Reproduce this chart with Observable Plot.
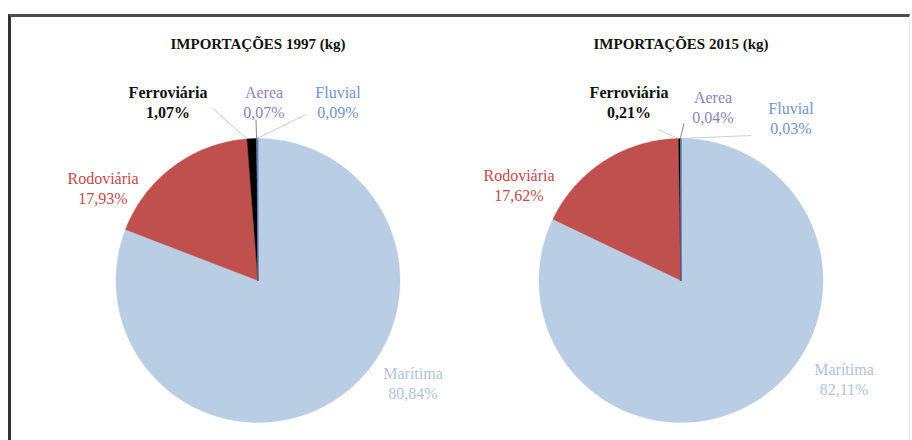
<!DOCTYPE html>
<html><head><meta charset="utf-8">
<script src="https://cdn.jsdelivr.net/npm/d3@7"></script>
<script src="https://cdn.jsdelivr.net/npm/@observablehq/plot@0.6"></script>
<style>
html,body{margin:0;padding:0;background:#fff;}
#wrap{position:relative;width:912px;height:440px;overflow:hidden;}
#box{position:absolute;left:8px;top:14px;width:902px;height:440px;border-left:3px solid #333;border-top:3px solid #4d4d4d;border-right:1px solid #e6e6e6;box-sizing:border-box;}
#chart{position:absolute;left:0;top:0;}
#chart svg text, #chart svg tspan {font-family:"Liberation Serif","Times New Roman",serif !important;}
</style></head><body>
<div id="wrap"><div id="box"></div><div id="chart"></div></div>
<script>
// Import shares by transport mode (% of kg)
const years = ["1997", "2015"];
const titles = ["IMPORTAÇÕES 1997 (kg)", "IMPORTAÇÕES 2015 (kg)"];
const modes = ["Marítima", "Rodoviária", "Ferroviária", "Aerea", "Fluvial"];
const share1997 = [80.84, 17.93, 1.07, 0.07, 0.09];
const share2015 = [82.11, 17.62, 0.21, 0.04, 0.03];

const sliceColors = ["#b9cde5", "#c0504d", "#000000", "#8064a2", "#4f81bd"];
const labelColors = ["#b3c3db", "#be4a4e", "#111111", "#9580bb", "#6f95cb"];
const leaderColors = ["#c8d4e6", "#c0504d", "#b8bfca", "#666666", "#bcc2cc"];
const boldLabel = [false, false, true, false, false];

// Layout (pixels relative to each pie's centre, x right / y down)
const R = 142;
const lineGap = 20;
const labelAt = {
  "1997": [[155, 103], [-155, -92], [-90, -178], [6, -178], [80, -178]],
  "2015": [[163, 99], [-162, -95], [-52, -178], [32, -173], [110, -162]]
};
const leaderFrom = {
  "1997": [[114, 93], null, [-45, -172], [-2, -161], [48, -166]],
  "2015": [null, null, [-23, -151], [3, -157], [70, -145]]
};
const shares = {"1997": share1997, "2015": share2015};

const fmt = v => v.toFixed(2).replace(".", ",") + "%";

// Build slice outlines, labels and leader lines from the shares
const slices = [], labels = [], leaders = [];
for (const year of years) {
  const vals = shares[year];
  const total = d3.sum(vals);
  let a0 = 0;
  vals.forEach((v, i) => {
    const a1 = a0 + v / total * 360;
    const n = Math.max(2, Math.ceil((a1 - a0) / 0.5));
    slices.push({year, key: year + i, x: 0, y: 0, color: sliceColors[i]});
    for (let k = 0; k <= n; k++) {
      const a = (a0 + (a1 - a0) * k / n) * Math.PI / 180;
      slices.push({year, key: year + i, x: Math.sin(a), y: Math.cos(a), color: sliceColors[i]});
    }
    const [lx, ly] = labelAt[year][i];
    labels.push({year, x: lx / R, y: -(ly - lineGap / 2) / R, text: modes[i], color: labelColors[i], bold: boldLabel[i]});
    labels.push({year, x: lx / R, y: -(ly + lineGap / 2) / R, text: fmt(v), color: labelColors[i], bold: boldLabel[i]});
    const from = leaderFrom[year][i];
    if (from) {
      let ang = Math.atan2(from[0], -from[1]) * 180 / Math.PI;
      if (ang < 0) ang += 360;
      ang = Math.min(Math.max(ang, a0), a1);
      const r = ang * Math.PI / 180;
      leaders.push({year, x1: from[0] / R, y1: -from[1] / R, x2: Math.sin(r), y2: Math.cos(r), color: leaderColors[i]});
    }
    a0 = a1;
  });
}
const titleRows = years.map((year, i) => ({year, text: titles[i]}));

const serif = "Liberation Serif";
const labelStyle = {fx: "year", x: "x", y: "y", text: "text", fill: "color", fontFamily: serif, fontSize: 16};
const chart = Plot.plot({
  width: 912,
  height: 440,
  marginLeft: 45.5,
  marginRight: 20.5,
  marginTop: 0,
  marginBottom: 0,
  fx: {axis: null, padding: 0},
  x: {axis: null, domain: [-211.5 / R, 211.5 / R]},
  y: {axis: null, domain: [-160 / R, 280 / R]},
  color: {type: "identity"},
  style: {background: "transparent", overflow: "visible", fontFamily: serif},
  marks: [
    Plot.line(slices, {fx: "year", x: "x", y: "y", z: "key", fill: "color", stroke: "color", strokeWidth: 0.4, curve: "linear-closed"}),
    Plot.link(leaders, {fx: "year", x1: "x1", y1: "y1", x2: "x2", y2: "y2", stroke: "color", strokeWidth: 0.8}),
    Plot.text(labels.filter(d => d.bold), {...labelStyle, fontWeight: "bold", letterSpacing: 0.9}),
    Plot.text(labels.filter(d => !d.bold), {...labelStyle, fontWeight: "normal", letterSpacing: 1.2}),
    Plot.text(titleRows, {fx: "year", x: () => 0, y: () => (280 - 44) / R, text: "text", fill: "#111", fontFamily: serif, fontSize: 15, fontWeight: "bold", letterSpacing: 1.5})
  ]
});
document.getElementById("chart").appendChild(chart);
</script>
</body></html>
